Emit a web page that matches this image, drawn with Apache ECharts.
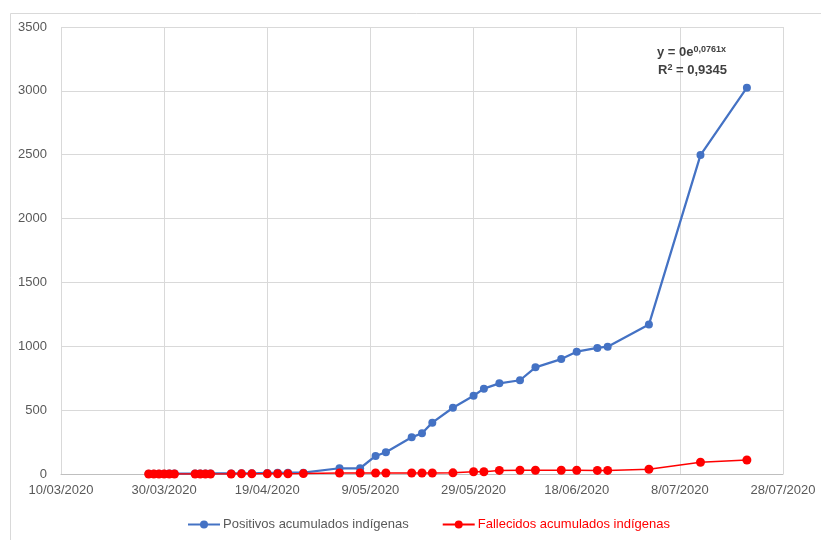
<!DOCTYPE html>
<html>
<head>
<meta charset="utf-8">
<script src="https://cdn.jsdelivr.net/npm/echarts@6/dist/echarts.min.js"></script>
<style>html,body{margin:0;padding:0;background:#fff}#c{width:821px;height:540px}</style>
</head>
<body>
<div id="c"></div>
<script>
// Dates (d/m/yyyy) of observations
const dates = ["27/03/2020","28/03/2020","29/03/2020","30/03/2020","31/03/2020","1/04/2020",
  "5/04/2020","6/04/2020","7/04/2020","8/04/2020","12/04/2020","14/04/2020","16/04/2020",
  "19/04/2020","21/04/2020","23/04/2020","26/04/2020","3/05/2020","7/05/2020","10/05/2020",
  "12/05/2020","17/05/2020","19/05/2020","21/05/2020","25/05/2020","29/05/2020","31/05/2020",
  "3/06/2020","7/06/2020","10/06/2020","15/06/2020","18/06/2020","22/06/2020","24/06/2020",
  "2/07/2020","12/07/2020","21/07/2020"];
const positivos = [1,1,2,2,3,3, 3,3,4,4,4,5,5, 8,9,10,10,45,45,141,
  170,287,319,402,519,613,668, 710,734,835,900,958,987,997, 1170,2497,3025];
const fallecidos = [0,0,0,0,0,0, 0,0,0,0,0,1,1, 1,2,2,3,8,8,8,
  8,8,8,8,9,18,18, 28,29,29,29,29,28,28, 37,92,110];
const seriesNames = ["Positivos acumulados indígenas","Fallecidos acumulados indígenas"];
const axisStart = "10/03/2020";
const axisEndDays = 140;   // 28/07/2020
const xStep = 20;
const yTicks = [0,500,1000,1500,2000,2500,3000,3500];
const trendEq = "0,0761x";
const r2 = "0,9345";

function toUTC(s){const p=s.split('/');return Date.UTC(+p[2],+p[1]-1,+p[0]);}
const t0 = toUTC(axisStart);
function dayOf(s){return Math.round((toUTC(s)-t0)/86400000);}
function fmt(d){const dt=new Date(t0+d*86400000);
  return dt.getUTCDate()+'/'+String(dt.getUTCMonth()+1).padStart(2,'0')+'/'+dt.getUTCFullYear();}

const bluePts = dates.map((d,i)=>[dayOf(d),positivos[i]]);
const redPts = dates.map((d,i)=>[dayOf(d),fallecidos[i]]);

const font = "'Liberation Sans', Arial, sans-serif";
const chart = echarts.init(document.getElementById('c'), null, {renderer:'canvas'});
chart.setOption({
  backgroundColor:'#fff',
  animation:false,
  textStyle:{fontFamily:font},
  grid:{left:61,right:38,top:27,bottom:66,containLabel:false},
  xAxis:{type:'value',min:0,max:axisEndDays,interval:xStep,
    axisLine:{show:true,lineStyle:{color:'#bfbfbf',width:1}},
    axisTick:{show:false},
    splitLine:{show:true,lineStyle:{color:'#d9d9d9',width:1}},
    axisLabel:{color:'#595959',fontSize:13,margin:10,formatter:v=>fmt(v),fontFamily:font}},
  yAxis:{type:'value',min:yTicks[0],max:yTicks[yTicks.length-1],interval:yTicks[1]-yTicks[0],
    axisLine:{show:false},axisTick:{show:false},
    splitLine:{show:true,lineStyle:{color:'#d9d9d9',width:1}},
    axisLabel:{color:'#595959',fontSize:13,margin:14,fontFamily:font,formatter:v=>String(v)}},
  legend:{bottom:4,left:182,itemGap:33,itemWidth:32,itemHeight:10,
    data:[{name:seriesNames[0],textStyle:{color:'#595959'}},
          {name:seriesNames[1],textStyle:{color:'#ff0000'}}],
    textStyle:{fontSize:13,fontFamily:font,padding:[0,0,0,-2]}},
  series:[
    {name:seriesNames[0],type:'line',data:bluePts,color:'#4472c4',
     symbol:'circle',symbolSize:8,lineStyle:{width:2.25,color:'#4472c4'},
     itemStyle:{color:'#4472c4'},z:2},
    {name:seriesNames[1],type:'line',data:redPts,color:'#ff0000',
     symbol:'circle',symbolSize:9,lineStyle:{width:1.5,color:'#ff0000'},
     itemStyle:{color:'#ff0000'},z:3}
  ],
  graphic:[
    {type:'rect',left:8,top:11,shape:{width:840,height:560},silent:true,z:-10,
     style:{fill:null,stroke:'#d9d9d9',lineWidth:1}},
    {type:'text',left:657,top:45,z:10,style:{
      text:'{a|y = 0e}{s|'+trendEq+'}',
      rich:{a:{fontSize:13,fontWeight:'bold',fill:'#404040',fontFamily:font},
            s:{fontSize:9,fontWeight:'bold',fill:'#404040',fontFamily:font,verticalAlign:'top',padding:[0,0,6,0]}}}},
    {type:'text',left:658,top:63,z:10,style:{
      text:'{a|R}{s|2}{a| = '+r2+'}',
      rich:{a:{fontSize:13,fontWeight:'bold',fill:'#404040',fontFamily:font},
            s:{fontSize:9,fontWeight:'bold',fill:'#404040',fontFamily:font,padding:[0,0,6,0]}}}}
  ]
});
</script>
</body>
</html>
